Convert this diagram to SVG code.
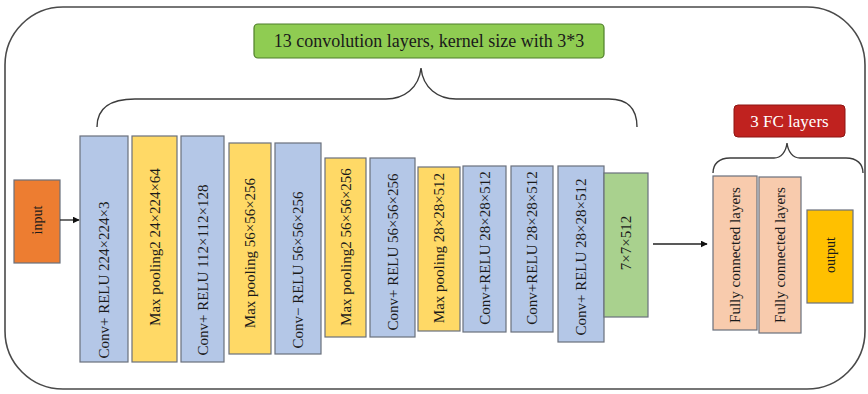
<svg xmlns="http://www.w3.org/2000/svg" width="868" height="394" viewBox="0 0 868 394">
  <defs>
    <marker id="arrowhead" viewBox="0 0 10 10" refX="9" refY="5" markerWidth="7" markerHeight="7" markerUnits="userSpaceOnUse" orient="auto">
      <path d="M0,0 L10,5 L0,10 z" fill="#111"/>
    </marker>
    <style>
      .frame { fill: #ffffff; stroke: #4a4a4a; stroke-width: 1.6; }
      .layer { stroke: #6a707c; stroke-width: 1.2; }
      .conv { fill: #b4c7e7; }
      .pool { fill: #ffd966; }
      .flat { fill: #a9d18e; }
      .fc { fill: #f8cbad; }
      .io-in { fill: #ed7d31; }
      .io-out { fill: #ffc000; }
      .lbl { font-family: "Liberation Serif", "Times New Roman", serif; font-size: 15px; fill: #1a1a1a; text-anchor: middle; dominant-baseline: central; }
      .small { font-size: 14px; }
      .brace { fill: none; stroke: #3c3c3c; stroke-width: 1.4; }
      .link { fill: none; stroke: #222; stroke-width: 1.3; }
      .head { font-family: "Liberation Serif", "Times New Roman", serif; font-size: 18px; text-anchor: middle; dominant-baseline: central; }
    </style>
  </defs>

  <!-- outer frame -->
  <rect class="frame" x="5" y="7" width="860" height="382" rx="58" ry="58"/>

  <!-- group titles -->
  <g id="conv-title">
    <rect x="254" y="24" width="350" height="34" rx="4" fill="#8fcc52" stroke="#4f7f2a" stroke-width="1.2"/>
    <text class="head" x="429" y="41" fill="#1a1a1a">13 convolution layers, kernel size with 3*3</text>
  </g>
  <g id="fc-title">
    <rect x="734" y="105" width="111" height="32" rx="4" fill="#c0221f" stroke="#8e1512" stroke-width="1"/>
    <text class="head" x="789.5" y="121" fill="#ffffff" style="font-size:17px">3 FC layers</text>
  </g>

  <!-- braces -->
  <g id="braces">
    <path class="brace" d="M97,127 C97,108 110,99 135,99 L386,99 C404,99 419,88 421,68 C423,88 438,99 456,99 L609,99 C628,99 637,108 637,127"/>
    <path class="brace" d="M713,173 C713,164 719,158 730,158 L774,158 C781,158 786,152 787,143 C788,152 793,158 800,158 L846,158 C857,158 863,164 863,173"/>
  </g>

  <!-- input / output -->
  <g id="input">
    <rect class="layer io-in" x="14" y="180" width="46" height="83"/>
    <text class="lbl small" transform="translate(37,220) rotate(-90)">input</text>
  </g>

  <!-- convolution stack -->
  <g id="layer1">
    <rect class="layer conv" x="80" y="136" width="48" height="226"/>
    <text class="lbl" transform="translate(104,280) rotate(-90)">Conv+ RELU 224×224×3</text>
  </g>
  <g id="layer2">
    <rect class="layer pool" x="132" y="136" width="45" height="226"/>
    <text class="lbl" transform="translate(154.5,247) rotate(-90)">Max pooling2 24×224×64</text>
  </g>
  <g id="layer3">
    <rect class="layer conv" x="181" y="136" width="43" height="226"/>
    <text class="lbl" transform="translate(202.5,270) rotate(-90)">Conv+ RELU 112×112×128</text>
  </g>
  <g id="layer4">
    <rect class="layer pool" x="229" y="143" width="42" height="211"/>
    <text class="lbl" transform="translate(250,253) rotate(-90)">Max pooling 56×56×256</text>
  </g>
  <g id="layer5">
    <rect class="layer conv" x="275" y="143" width="46" height="211"/>
    <text class="lbl" transform="translate(298,270) rotate(-90)">Conv− RELU 56×56×256</text>
  </g>
  <g id="layer6">
    <rect class="layer pool" x="325" y="158" width="41" height="179"/>
    <text class="lbl" transform="translate(346,247) rotate(-90)">Max pooling2 56×56×256</text>
  </g>
  <g id="layer7">
    <rect class="layer conv" x="370" y="158" width="45" height="179"/>
    <text class="lbl" transform="translate(392.5,252) rotate(-90)">Conv+ RELU 56×56×256</text>
  </g>
  <g id="layer8">
    <rect class="layer pool" x="418" y="167" width="42" height="164"/>
    <text class="lbl" transform="translate(439,248) rotate(-90)">Max pooling 28×28×512</text>
  </g>
  <g id="layer9">
    <rect class="layer conv" x="463" y="166" width="43" height="166"/>
    <text class="lbl" transform="translate(484.5,248) rotate(-90)">Conv+RELU 28×28×512</text>
  </g>
  <g id="layer10">
    <rect class="layer conv" x="511" y="166" width="42" height="166"/>
    <text class="lbl" transform="translate(532,248) rotate(-90)">Conv+RELU 28×28×512</text>
  </g>
  <g id="layer11">
    <rect class="layer conv" x="558" y="166" width="46" height="176"/>
    <text class="lbl" transform="translate(581,257) rotate(-90)">Conv+ RELU 28×28×512</text>
  </g>
  <g id="layer12">
    <rect class="layer flat" x="604" y="173" width="44" height="144"/>
    <text class="lbl" transform="translate(626,243) rotate(-90)">7×7×512</text>
  </g>

  <!-- fully connected stack -->
  <g id="fc1">
    <rect class="layer fc" x="713" y="176" width="44" height="154"/>
    <text class="lbl" transform="translate(735,255) rotate(-90)">Fully connected layers</text>
  </g>
  <g id="fc2">
    <rect class="layer fc" x="759" y="177" width="42" height="156"/>
    <text class="lbl" transform="translate(780,255) rotate(-90)">Fully connected layers</text>
  </g>
  <g id="output">
    <rect class="layer io-out" x="807" y="210" width="46" height="93"/>
    <text class="lbl small" transform="translate(830,255) rotate(-90)">output</text>
  </g>

  <!-- connectors -->
  <g id="connectors">
    <line class="link" x1="60" y1="220" x2="79" y2="220" marker-end="url(#arrowhead)"/>
    <line class="link" x1="653" y1="244" x2="707" y2="244" marker-end="url(#arrowhead)"/>
  </g>
</svg>
